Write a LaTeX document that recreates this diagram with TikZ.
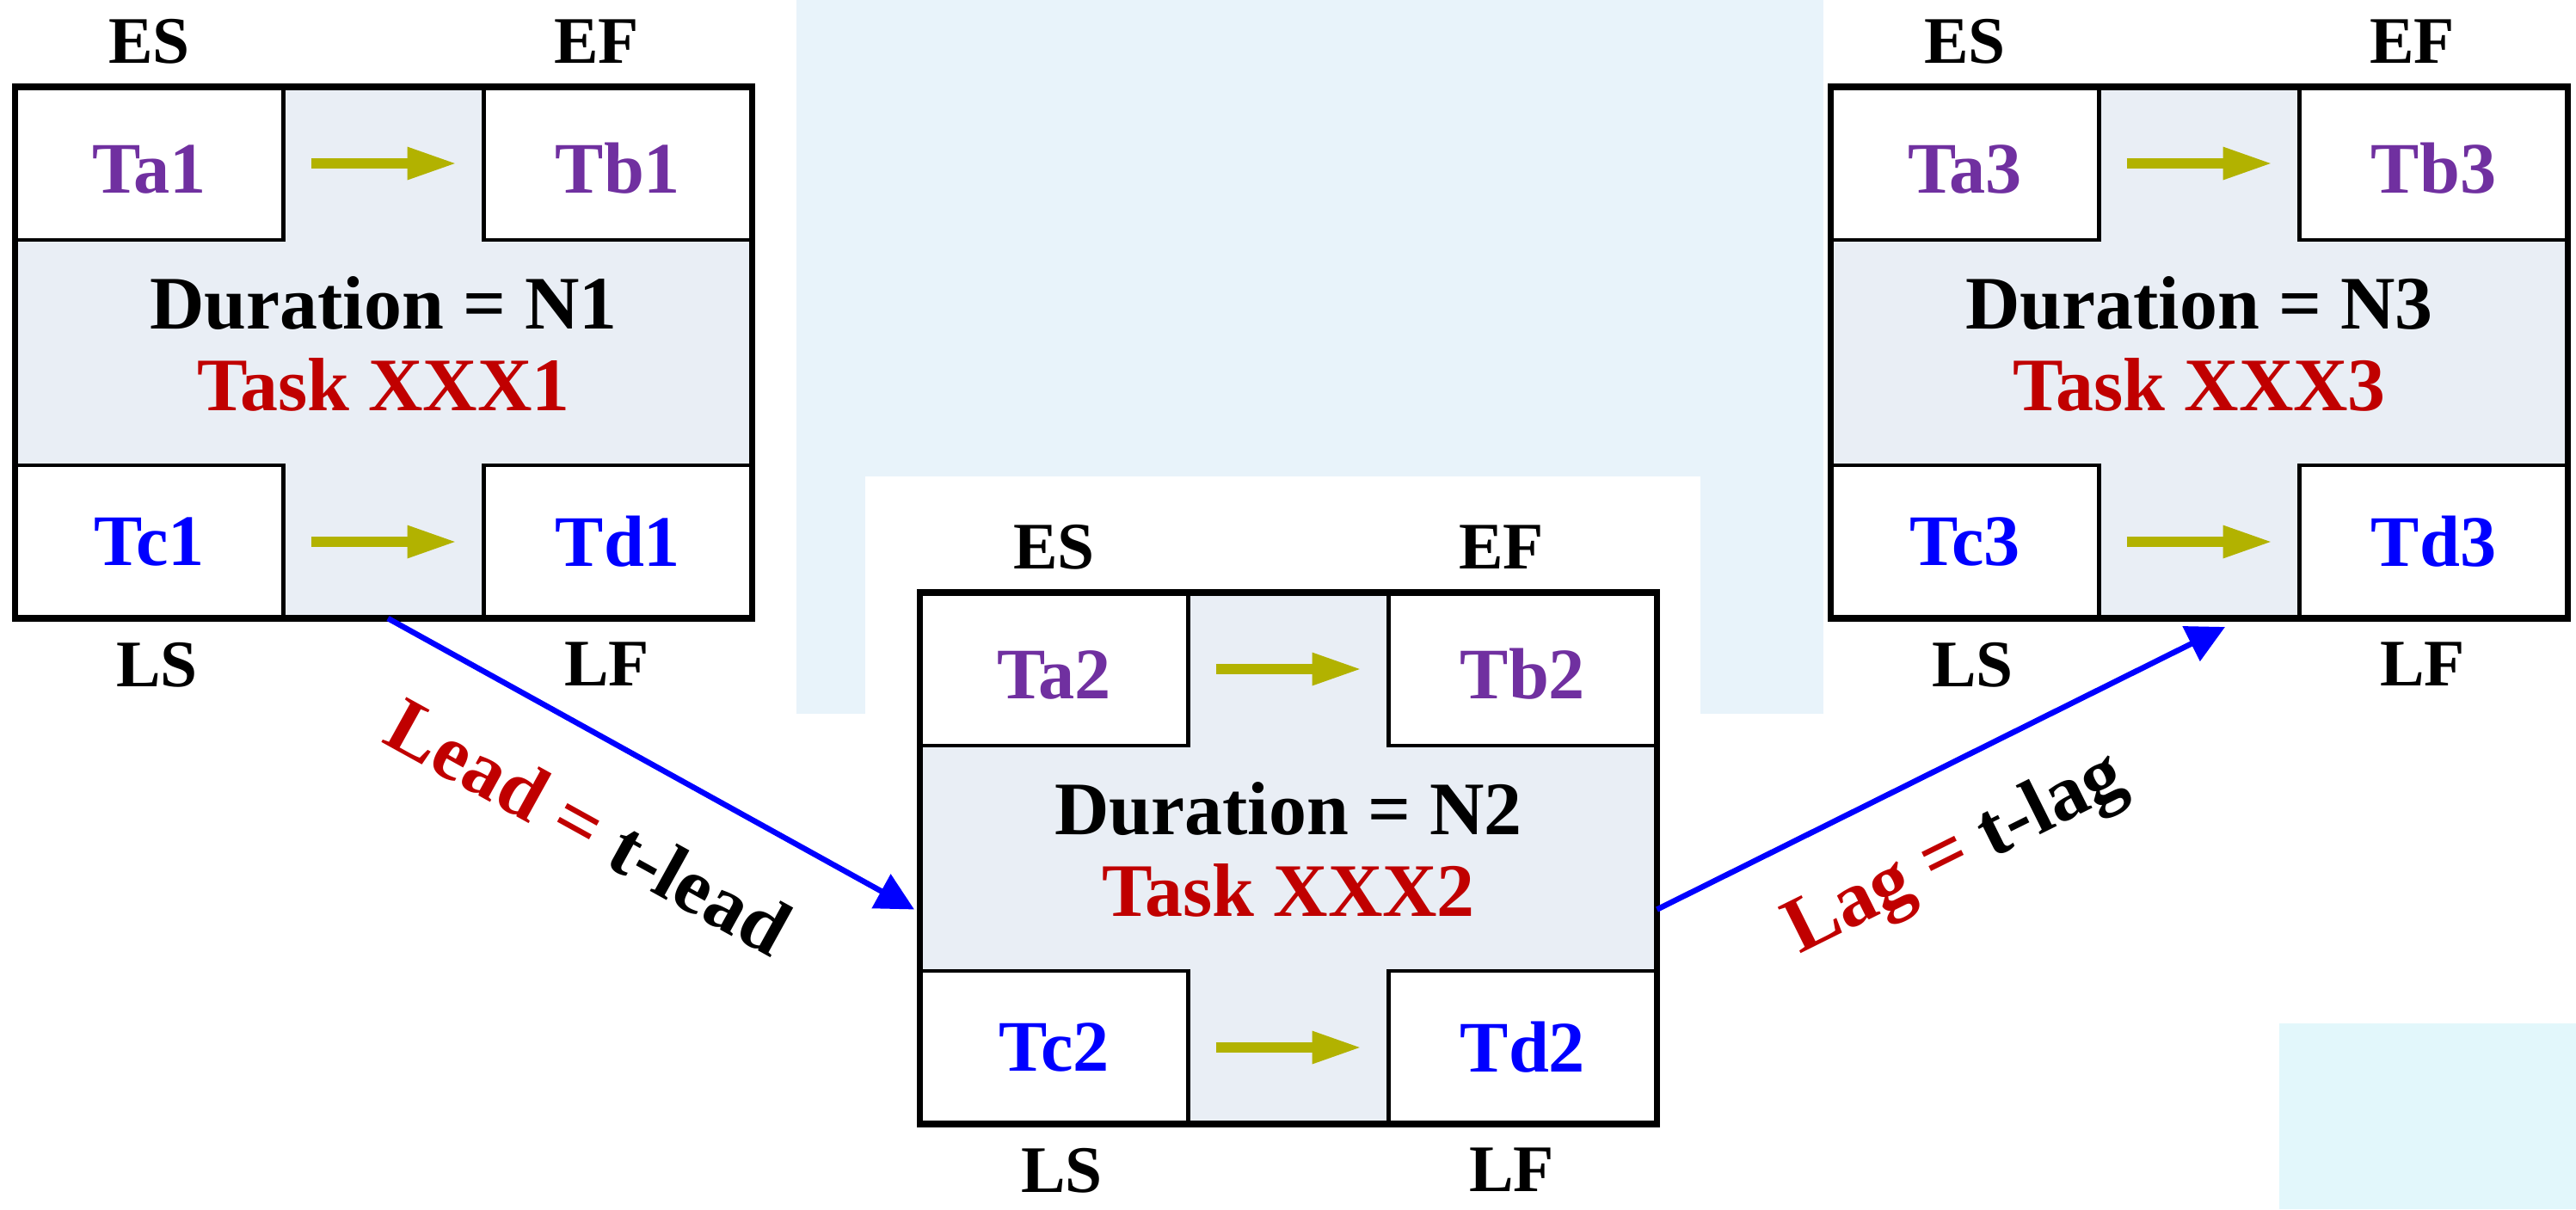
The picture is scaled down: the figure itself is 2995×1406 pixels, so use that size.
\documentclass[tikz,border=0pt]{standalone}
\usepackage{fontspec}
\setmainfont{Liberation Serif}
\usetikzlibrary{arrows.meta,positioning}

\definecolor{tpurple}{RGB}{112,48,160}
\definecolor{tblue}{RGB}{0,0,255}
\definecolor{tred}{RGB}{192,0,0}
\definecolor{tolive}{RGB}{178,178,0}
\definecolor{tfill}{RGB}{233,238,245}
\definecolor{bgblue}{RGB}{232,243,250}
\definecolor{bgcyan}{RGB}{226,247,251}

\tikzset{
  taskbox/.style={fill=tfill, minimum width=85.7mm, minimum height=61.8mm, inner sep=0pt, outer sep=0pt},
  frame/.style={line width=2.1pt},
  corner/.style={draw, line width=1.4pt, fill=white, minimum width=31.2mm, minimum height=17.8mm, inner sep=0pt, outer sep=0pt, font=\fontsize{24}{28}\selectfont\bfseries},
  topcorner/.style={corner, text=tpurple, text height=20pt},
  botcorner/.style={corner, text=tblue},
  timelabel/.style={inner sep=0pt, font=\fontsize{22}{26}\selectfont\bfseries},
  flow/.style={tolive, line width=3.4pt, -{Triangle[length=5.8mm, width=3.5mm]}},
  link/.style={tblue, line width=1.85pt, -{Triangle[length=4.4mm, width=4.4mm]}},
  linklabel/.style={sloped, text=black, inner sep=0pt, font=\fontsize{26}{30}\selectfont\bfseries}
}

\begin{document}
\begin{tikzpicture}[x=0.1mm, y=-0.1mm]
\useasboundingbox (0,0) rectangle (2995,1406);
% slide background
\fill[bgblue] (926,0) rectangle (2120,830);
\fill[white] (1006,554) rectangle (1977,1406);
\fill[bgcyan] (2650,1190) rectangle (2995,1406);

% the three task boxes
\foreach \i/\x/\y in {1/446/410, 2/1498/998, 3/2557/410} {
  \node[taskbox] (box\i) at (\x,\y) {};
  \node[topcorner, anchor=north west] (ta\i) at (box\i.north west) {Ta\i};
  \node[topcorner, anchor=north east] (tb\i) at (box\i.north east) {Tb\i};
  \node[botcorner, anchor=south west] (tc\i) at (box\i.south west) {Tc\i};
  \node[botcorner, anchor=south east] (td\i) at (box\i.south east) {Td\i};
  \draw[frame] (box\i.north west) rectangle (box\i.south east);
  \node[align=center, inner sep=0pt, font=\fontsize{25}{27}\selectfont\bfseries] (dur\i) at ([yshift=1mm]box\i.center)
    {Duration = N\i\\{\color{tred}Task XXX\i}};
  \draw[flow] ([xshift=3.2mm]ta\i.east) -- ([xshift=-3.1mm]tb\i.west);
  \draw[flow] ([xshift=3.2mm]tc\i.east) -- ([xshift=-3.1mm]td\i.west);
  \node[timelabel, above=2.65mm of ta\i.north] (es\i) {ES};
  \node[timelabel, above=2.65mm of tb\i.north, xshift=-2.5mm] (ef\i) {EF};
  \node[timelabel, below=2.75mm of tc\i.south, xshift=0.9mm] (ls\i) {LS};
  \node[timelabel, below=2.75mm of td\i.south, xshift=-1.3mm] (lf\i) {LF};
}

% lead and lag links
\draw[link] ([xshift=0.5mm]box1.south) -- ([xshift=-0.65mm, yshift=-5.95mm]box2.west)
  node[linklabel, pos=0.46, below=6.3mm] (lead) {{\color{tred}Lead =} t-lead};
\draw[link] ([yshift=-5.95mm]box2.east) -- ([xshift=3mm, yshift=-1mm]box3.south)
  node[linklabel, pos=0.46, below=5.4mm] (lag) {{\color{tred}Lag =} t-lag};
\end{tikzpicture}
\end{document}
